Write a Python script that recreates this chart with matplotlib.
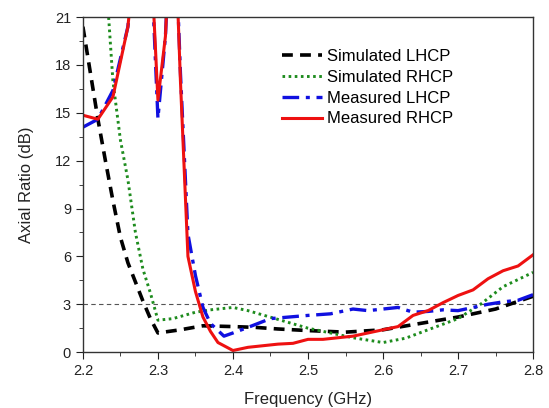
import matplotlib
matplotlib.use("Agg")
import matplotlib.pyplot as plt
from matplotlib.ticker import MultipleLocator

plt.rcParams["font.family"] = ["Liberation Sans", "DejaVu Sans"]

# Simulated LHCP
f_sim_l = [2.20, 2.21, 2.22, 2.23, 2.24, 2.25, 2.26, 2.27, 2.28, 2.29, 2.30, 2.33, 2.36, 2.40,
           2.43, 2.46, 2.50, 2.55, 2.60, 2.65, 2.70, 2.75, 2.80]
ar_sim_l = [20.4, 17.5, 14.6, 12.0, 9.5, 7.2, 5.6, 4.4, 3.2, 2.1, 1.2, 1.4, 1.65, 1.6,
            1.55, 1.45, 1.35, 1.25, 1.4, 1.8, 2.2, 2.7, 3.5]

# Simulated RHCP
f_sim_r = [2.23, 2.24, 2.25, 2.26, 2.27, 2.28, 2.29, 2.30, 2.32, 2.35, 2.37, 2.40, 2.42, 2.46,
           2.50, 2.53, 2.56, 2.60, 2.63, 2.66, 2.70, 2.73, 2.76, 2.80]
ar_sim_r = [24.0, 17.0, 13.3, 10.8, 7.5, 5.2, 3.7, 2.0, 2.1, 2.5, 2.65, 2.8, 2.6, 2.05,
            1.5, 1.2, 0.9, 0.6, 0.87, 1.4, 2.1, 3.0, 4.1, 5.0]

# Measured LHCP
f_mea_l = [2.20, 2.22, 2.24, 2.26, 2.28, 2.29, 2.30, 2.31, 2.32, 2.33, 2.34, 2.35, 2.36, 2.37,
           2.388, 2.40, 2.42, 2.45, 2.50, 2.53, 2.56, 2.58, 2.60, 2.62, 2.64, 2.66, 2.68,
           2.70, 2.72, 2.74, 2.76, 2.78, 2.80]
ar_mea_l = [14.1, 14.6, 16.4, 20.4, 30.0, 25.6, 14.65, 19.8, 30.0, 17.5, 7.4, 4.8, 2.8, 1.8,
            1.0, 1.2, 1.55, 2.1, 2.3, 2.4, 2.7, 2.6, 2.7, 2.8, 2.5, 2.55, 2.65,
            2.6, 2.8, 3.0, 3.15, 3.25, 3.6]

# Measured RHCP
f_mea_r = [2.20, 2.22, 2.24, 2.26, 2.28, 2.29, 2.30, 2.31, 2.32, 2.33, 2.34, 2.35, 2.36, 2.37,
           2.38, 2.40, 2.42, 2.44, 2.46, 2.48, 2.50, 2.52, 2.54, 2.56, 2.58, 2.60, 2.62,
           2.64, 2.66, 2.68, 2.70, 2.72, 2.74, 2.76, 2.78, 2.80]
ar_mea_r = [14.85, 14.6, 16.0, 20.4, 30.0, 25.6, 15.8, 19.8, 30.0, 17.0, 6.0, 3.8, 2.2, 1.3,
            0.6, 0.1, 0.3, 0.4, 0.5, 0.55, 0.8, 0.8, 0.9, 1.0, 1.2, 1.4, 1.6,
            2.3, 2.6, 3.1, 3.55, 3.9, 4.6, 5.1, 5.4, 6.1]

fig = plt.figure(figsize=(5.49, 4.08), dpi=100)
ax = fig.add_axes([0.151, 0.137, 0.820, 0.821])

ax.axhline(3, color="#555555", lw=0.8, ls=(0, (4, 3)), zorder=1)
ax.plot(f_sim_l, ar_sim_l, color="black", lw=2.6, ls=(0, (3, 2)), label="Simulated LHCP")
ax.plot(f_sim_r, ar_sim_r, color="#1e8c1e", lw=2.1, ls=(0, (0.9, 1.2)), label="Simulated RHCP")
ax.plot(f_mea_l, ar_mea_l, color="#1010e0", lw=2.4, ls=(0, (5, 2, 1.2, 2)), label="Measured LHCP")
ax.plot(f_mea_r, ar_mea_r, color="#ee1111", lw=2.2, ls="-", label="Measured RHCP")

ax.set_xlim(2.2, 2.8)
ax.set_ylim(0, 21)
ax.xaxis.set_major_locator(MultipleLocator(0.1))
ax.xaxis.set_minor_locator(MultipleLocator(0.05))
ax.yaxis.set_major_locator(MultipleLocator(3))
ax.yaxis.set_minor_locator(MultipleLocator(1.5))
ax.tick_params(which="both", direction="out", top=False, right=False, labelsize=10.5,
               colors="#222222")
ax.tick_params(which="major", length=5)
ax.tick_params(which="minor", length=3)
for s in ax.spines.values():
    s.set_color("#333333")
    s.set_linewidth(1.0)

ax.set_xlabel("Frequency (GHz)", fontsize=12, color="#222222", labelpad=10)
ax.set_ylabel("Axial Ratio (dB)", fontsize=12, color="#222222", labelpad=15)

ax.legend(loc="upper left", bbox_to_anchor=(0.41, 0.95), frameon=False, fontsize=12,
          handlelength=2.4, handletextpad=0.3, labelspacing=0.35)

fig.savefig("out.png", dpi=100)
